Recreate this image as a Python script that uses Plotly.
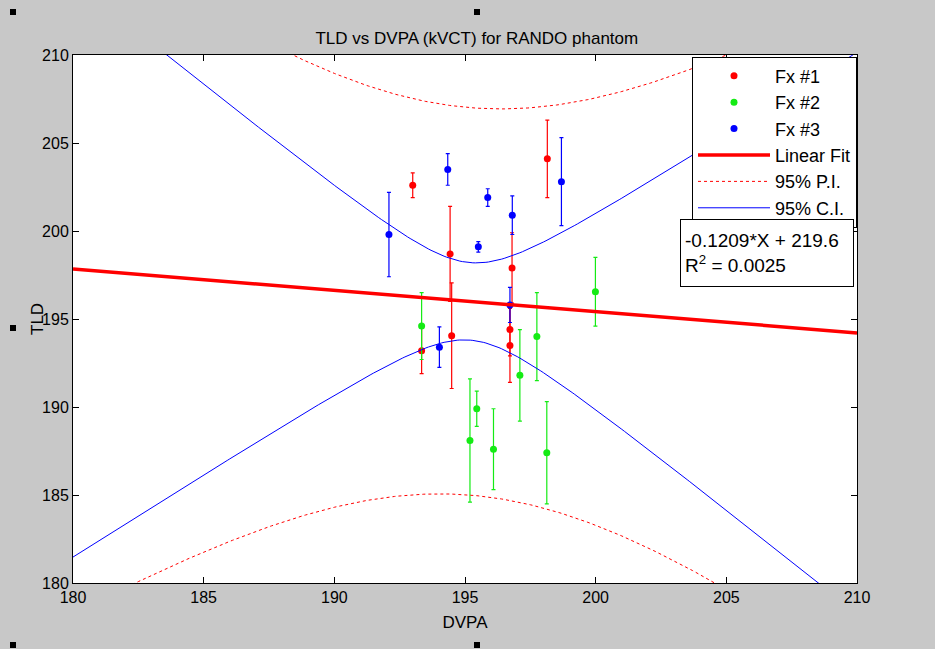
import numpy as np
import plotly.graph_objects as go

# ---- measurements: DVPA (x), TLD (y), TLD uncertainty ----
fx1_dvpa = [193.0, 194.43, 194.49, 193.34, 196.8, 196.72, 196.72, 198.15]
fx1_tld = [202.6, 198.7, 194.05, 193.2, 197.9, 194.4, 193.5, 204.1]
fx1_err = [0.7, 2.7, 3.0, 1.3, 2.0, 1.5, 2.1, 2.2]

fx2_dvpa = [193.34, 195.19, 195.45, 196.09, 197.1, 197.75, 198.13, 199.99]
fx2_tld = [194.6, 188.1, 189.9, 187.6, 191.8, 194.0, 187.4, 196.55]
fx2_err = [1.9, 3.5, 1.0, 2.3, 2.6, 2.5, 2.9, 1.95]

fx3_dvpa = [192.09, 194.34, 195.87, 195.51, 196.81, 196.72, 194.02, 198.69]
fx3_tld = [199.8, 203.5, 201.9, 199.1, 200.9, 195.8, 193.4, 202.8]
fx3_err = [2.4, 0.9, 0.5, 0.3, 1.1, 1.0, 1.15, 2.5]

# linear fit reported on the chart
fit_slope = -0.1209
fit_intercept = 219.6
fit_r2 = 0.0025

# regression statistics behind the 95% bands
t_975 = 2.074        # Student t, two-sided 95%, n-2 dof
band_sd = 5.2        # residual standard deviation
band_center = 195.2  # mean DVPA of the fit
band_sxx = 102.2     # sum of squared DVPA deviations

x_ticks = [180, 185, 190, 195, 200, 205, 210]
y_ticks = [180, 185, 190, 195, 200, 205, 210]

# ---- regression bands (confidence and prediction) ----
n = len(fx1_dvpa) + len(fx2_dvpa) + len(fx3_dvpa)
xg = np.linspace(180, 210, 301)
yfit = fit_intercept + fit_slope * xg
lever = (xg - band_center) ** 2 / band_sxx
ci = t_975 * band_sd * np.sqrt(1.0 / n + lever)
pi = t_975 * band_sd * np.sqrt(1.0 + 1.0 / n + lever)

RED = "rgb(255,0,0)"
GREEN = "rgb(20,235,20)"
BLUE = "rgb(0,0,255)"

fig = go.Figure()


def add_series(xs, ys, es, color, name):
    fig.add_trace(go.Scatter(
        x=xs, y=ys, mode="markers", name=name,
        marker=dict(color=color, size=7, symbol="circle"),
        error_y=dict(type="data", array=es, visible=True,
                     color=color, thickness=1.2, width=2),
    ))


add_series(fx1_dvpa, fx1_tld, fx1_err, RED, "Fx #1")
add_series(fx2_dvpa, fx2_tld, fx2_err, GREEN, "Fx #2")
add_series(fx3_dvpa, fx3_tld, fx3_err, BLUE, "Fx #3")

fig.add_trace(go.Scatter(x=xg, y=yfit, mode="lines", name="Linear Fit",
                         line=dict(color=RED, width=3.5)))
fig.add_trace(go.Scatter(x=xg, y=yfit + pi, mode="lines", name="95% P.I.",
                         line=dict(color=RED, width=1, dash="3px,3px"),
                         legendgroup="pi"))
fig.add_trace(go.Scatter(x=xg, y=yfit - pi, mode="lines", showlegend=False,
                         line=dict(color=RED, width=1, dash="3px,3px"),
                         legendgroup="pi"))
fig.add_trace(go.Scatter(x=xg, y=yfit + ci, mode="lines", name="95% C.I.",
                         line=dict(color=BLUE, width=1), legendgroup="ci"))
fig.add_trace(go.Scatter(x=xg, y=yfit - ci, mode="lines", showlegend=False,
                         line=dict(color=BLUE, width=1), legendgroup="ci"))

FONT = "Liberation Sans, Arial, sans-serif"

axis_common = dict(
    showgrid=False, zeroline=False,
    showline=True, linecolor="black", linewidth=1, mirror="ticks",
    ticks="inside", ticklen=6, tickcolor="black", tickwidth=1,
    tickfont=dict(family=FONT, size=16, color="black"),
)

fig.update_xaxes(range=[180, 210], tickvals=x_ticks,
                 title=dict(text="DVPA", font=dict(family=FONT, size=17, color="black"), standoff=10),
                 **axis_common)
fig.update_yaxes(range=[180, 210], tickvals=y_ticks, **axis_common)

# y-axis label, placed close to the tick labels
fig.add_annotation(
    xref="paper", yref="paper", x=(37 - 73) / 784, y=0.5,
    xanchor="center", yanchor="middle", textangle=-90,
    text="TLD", showarrow=False,
    font=dict(family=FONT, size=17, color="black"),
)

# equation box
fig.add_annotation(
    xref="paper", yref="paper", x=0.774, y=0.69, xanchor="left", yanchor="top",
    text=f"{fit_slope:.4f}*X + {fit_intercept:.1f}<br>R<sup>2</sup> = {fit_r2:.4f}",
    showarrow=False, align="left", width=164, height=58,
    font=dict(family=FONT, size=19, color="black"),
    bgcolor="white", bordercolor="black", borderwidth=1, borderpad=4,
)

# figure selection handles
handles = [(13, 12), (477, 12), (13, 328), (13, 645), (477, 645)]
for hx, hy in handles:
    px0 = (hx - 3 - 73) / 784
    px1 = (hx + 3 - 73) / 784
    py0 = (583 - (hy + 3)) / 528
    py1 = (583 - (hy - 3)) / 528
    fig.add_shape(type="rect", xref="paper", yref="paper",
                  x0=px0, x1=px1, y0=py0, y1=py1,
                  fillcolor="black", line=dict(width=0))

fig.update_layout(
    width=935, height=649,
    margin=dict(l=73, r=78, t=55, b=66),
    paper_bgcolor="rgb(200,200,200)",
    plot_bgcolor="white",
    title=dict(text="TLD vs DVPA (kVCT) for RANDO phantom",
               x=0.51, xanchor="center", y=0.942, yanchor="middle",
               font=dict(family=FONT, size=17, color="black")),
    legend=dict(x=1, xanchor="right", y=0.997, yanchor="top",
                bgcolor="white", bordercolor="black", borderwidth=1,
                font=dict(family=FONT, size=18, color="black"),
                itemwidth=72, tracegroupgap=0),
    showlegend=True,
)

fig.write_html("out.html")
